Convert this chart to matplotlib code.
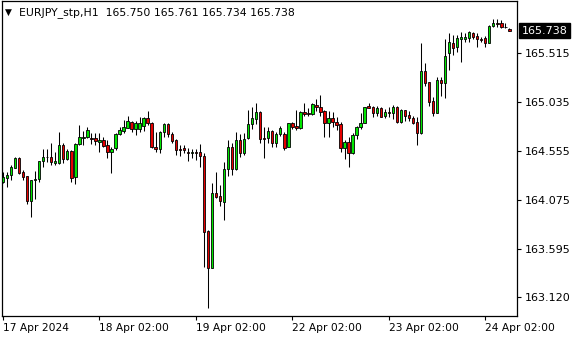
import matplotlib
matplotlib.use("Agg")
import matplotlib.pyplot as plt
import matplotlib.transforms as mtransforms

symbol = "EURJPY_stp,H1"
last_ohlc = ["165.750", "165.761", "165.734", "165.738"]

opens = [164.252, 164.291, 164.315, 164.390, 164.482, 164.345, 164.308, 164.065, 164.266, 164.276,
         164.453, 164.498, 164.498, 164.439, 164.433, 164.613, 164.472, 164.557, 164.295, 164.620,
         164.685, 164.689, 164.679, 164.679, 164.646, 164.662, 164.613, 164.547, 164.581, 164.718,
         164.754, 164.784, 164.842, 164.768, 164.768, 164.800, 164.876, 164.827, 164.597, 164.571,
         164.744, 164.817, 164.718, 164.662, 164.571, 164.581, 164.547, 164.531, 164.547, 164.547,
         164.505, 163.767, 163.400, 164.138, 164.111, 164.055, 164.374, 164.591, 164.374, 164.662,
         164.531, 164.679, 164.817, 164.866, 164.935, 164.679, 164.679, 164.754, 164.630, 164.721,
         164.721, 164.597, 164.827, 164.800, 164.777, 164.941, 164.928, 164.915, 165.007, 164.984,
         164.948, 164.833, 164.876, 164.842, 164.820, 164.587, 164.640, 164.531, 164.711, 164.787,
         164.833, 164.997, 164.990, 164.925, 164.974, 164.898, 164.941, 164.931, 164.990, 164.842,
         164.958, 164.908, 164.882, 164.837, 164.734, 165.341, 165.236, 165.046, 164.931, 165.253,
         165.220, 165.516, 165.614, 165.575, 165.659, 165.653, 165.663, 165.712, 165.686, 165.653,
         165.663, 165.620, 165.784, 165.811, 165.817, 165.777, 165.750]
highs = [164.350, 164.350, 164.416, 164.492, 164.492, 164.367, 164.308, 164.269, 164.360, 164.456,
         164.571, 164.571, 164.636, 164.547, 164.738, 164.636, 164.571, 164.564, 164.630, 164.810,
         164.754, 164.787, 164.728, 164.728, 164.734, 164.689, 164.662, 164.596, 164.728, 164.793,
         164.859, 164.898, 164.850, 164.849, 164.886, 164.892, 164.948, 164.837, 164.744, 164.754,
         164.827, 164.827, 164.744, 164.669, 164.613, 164.613, 164.581, 164.571, 164.571, 164.623,
         164.531, 163.777, 164.236, 164.350, 164.220, 164.443, 164.662, 164.630, 164.744, 164.721,
         164.728, 164.958, 164.984, 165.024, 164.948, 164.793, 164.787, 164.761, 164.744, 164.800,
         164.744, 164.833, 164.842, 164.958, 164.948, 165.029, 164.974, 165.024, 165.063, 165.105,
         164.958, 164.951, 164.941, 164.892, 164.842, 164.662, 164.695, 164.728, 164.800, 164.925,
         164.990, 165.024, 164.997, 164.997, 164.984, 164.965, 164.990, 165.007, 164.997, 164.967,
         164.958, 164.948, 164.898, 164.886, 165.620, 165.417, 165.236, 165.088, 165.285, 165.285,
         165.653, 165.712, 165.696, 165.696, 165.728, 165.712, 165.738, 165.728, 165.712, 165.679,
         165.686, 165.794, 165.850, 165.853, 165.843, 165.817, 165.761]
lows = [164.236, 164.197, 164.269, 164.384, 164.328, 164.269, 164.033, 163.908, 164.079, 164.252,
        164.400, 164.449, 164.416, 164.416, 164.426, 164.433, 164.466, 164.252, 164.227, 164.613,
        164.613, 164.685, 164.623, 164.613, 164.541, 164.596, 164.482, 164.340, 164.564, 164.711,
        164.728, 164.777, 164.744, 164.711, 164.744, 164.754, 164.810, 164.581, 164.547, 164.531,
        164.695, 164.695, 164.630, 164.515, 164.505, 164.531, 164.459, 164.482, 164.466, 164.393,
        163.416, 163.006, 163.400, 164.089, 164.013, 163.875, 164.308, 164.318, 164.367, 164.498,
        164.515, 164.669, 164.768, 164.817, 164.636, 164.482, 164.630, 164.597, 164.597, 164.702,
        164.564, 164.597, 164.768, 164.761, 164.771, 164.898, 164.898, 164.908, 164.951, 164.898,
        164.695, 164.695, 164.793, 164.761, 164.547, 164.475, 164.393, 164.525, 164.669, 164.768,
        164.827, 164.974, 164.886, 164.898, 164.886, 164.876, 164.892, 164.866, 164.827, 164.833,
        164.852, 164.852, 164.820, 164.613, 164.718, 165.194, 164.997, 164.898, 164.925, 165.095,
        165.073, 165.351, 165.499, 165.531, 165.430, 165.630, 165.630, 165.653, 165.580, 165.624,
        165.580, 165.614, 165.777, 165.777, 165.761, 165.761, 165.734]
closes = [164.295, 164.318, 164.394, 164.482, 164.341, 164.301, 164.065, 164.269, 164.279, 164.453,
          164.498, 164.500, 164.449, 164.456, 164.613, 164.472, 164.554, 164.291, 164.623, 164.689,
          164.695, 164.761, 164.675, 164.656, 164.662, 164.606, 164.547, 164.574, 164.718, 164.761,
          164.793, 164.849, 164.768, 164.827, 164.827, 164.876, 164.827, 164.591, 164.574, 164.744,
          164.817, 164.718, 164.656, 164.564, 164.561, 164.564, 164.531, 164.547, 164.537, 164.505,
          163.760, 163.400, 164.138, 164.104, 164.065, 164.374, 164.591, 164.374, 164.662, 164.531,
          164.669, 164.817, 164.876, 164.935, 164.669, 164.669, 164.754, 164.630, 164.721, 164.777,
          164.581, 164.827, 164.793, 164.777, 164.941, 164.918, 164.915, 165.014, 164.984, 164.941,
          164.833, 164.876, 164.842, 164.810, 164.587, 164.640, 164.531, 164.711, 164.787, 164.833,
          164.984, 164.980, 164.925, 164.974, 164.892, 164.941, 164.931, 164.990, 164.842, 164.958,
          164.898, 164.876, 164.833, 164.734, 165.341, 165.226, 165.039, 164.931, 165.253, 165.220,
          165.489, 165.630, 165.565, 165.663, 165.673, 165.673, 165.722, 165.679, 165.653, 165.646,
          165.620, 165.784, 165.811, 165.804, 165.777, 165.771, 165.738]

x_tick_bars = [0, 24, 48, 72, 96, 120]
x_tick_labels = ["17 Apr 2024", "18 Apr 02:00", "19 Apr 02:00", "22 Apr 02:00",
                 "23 Apr 02:00", "24 Apr 02:00"]
y_ticks = [163.120, 163.595, 164.075, 164.555, 165.035, 165.515]
y_tick_labels = ["163.120", "163.595", "164.075", "164.555", "165.035", "165.515"]
current_price = 165.738

W, H = 580, 340
fig = plt.figure(figsize=(W / 100, H / 100), dpi=100)
fig.patch.set_facecolor("white")
ax = fig.add_axes([1.5 / W, 24 / H, (517 - 1.5) / W, (339 - 24) / H])
ax.set_facecolor("white")

green = "#00e600"
red = "#e60000"
n = len(opens)
xs = list(range(n))
ax.vlines(xs, lows, highs, color="black", linewidth=0.75, zorder=2)
bottoms = [min(o, c) for o, c in zip(opens, closes)]
heights = [max(abs(c - o), 0.0015) for o, c in zip(opens, closes)]
colors = [green if c >= o else red for o, c in zip(opens, closes)]
ax.bar(xs, heights, bottom=bottoms, width=0.6, color=colors, edgecolor="black",
       linewidth=0.6, zorder=3)

ax.set_xlim(-0.37, 127.9)
ax.set_ylim(162.931, 166.030)

for s in ax.spines.values():
    s.set_color("black")
    s.set_linewidth(0.9)

ax.set_xticks(x_tick_bars)
ax.set_xticklabels(x_tick_labels, fontsize=7.7, family="DejaVu Sans")
for lab in ax.get_xticklabels():
    lab.set_horizontalalignment("left")
ax.tick_params(axis="x", direction="out", length=3, width=0.8, pad=2, colors="black")

ax.yaxis.tick_right()
ax.set_yticks(y_ticks)
ax.set_yticklabels(y_tick_labels, fontsize=8, family="DejaVu Sans")
ax.tick_params(axis="y", direction="out", length=3, width=0.8, pad=2.5, colors="black")

trans = mtransforms.blended_transform_factory(fig.transFigure, ax.transData)
ax.text(522 / W, current_price, f"{current_price:.3f}", transform=trans, ha="left", va="center",
        fontsize=8, color="white", family="DejaVu Sans", clip_on=False,
        bbox=dict(facecolor="black", edgecolor="black", pad=1.8))

fig.text(5 / W, 1 - 12.5 / H, "▼", fontsize=6.5, va="center", ha="left", color="black",
         family="DejaVu Sans")
fig.text(19 / W, 1 - 12.5 / H, symbol + "  " + " ".join(last_ohlc), fontsize=7.8,
         va="center", ha="left", color="black", family="DejaVu Sans")

fig.savefig("out.png", dpi=100, facecolor="white")
